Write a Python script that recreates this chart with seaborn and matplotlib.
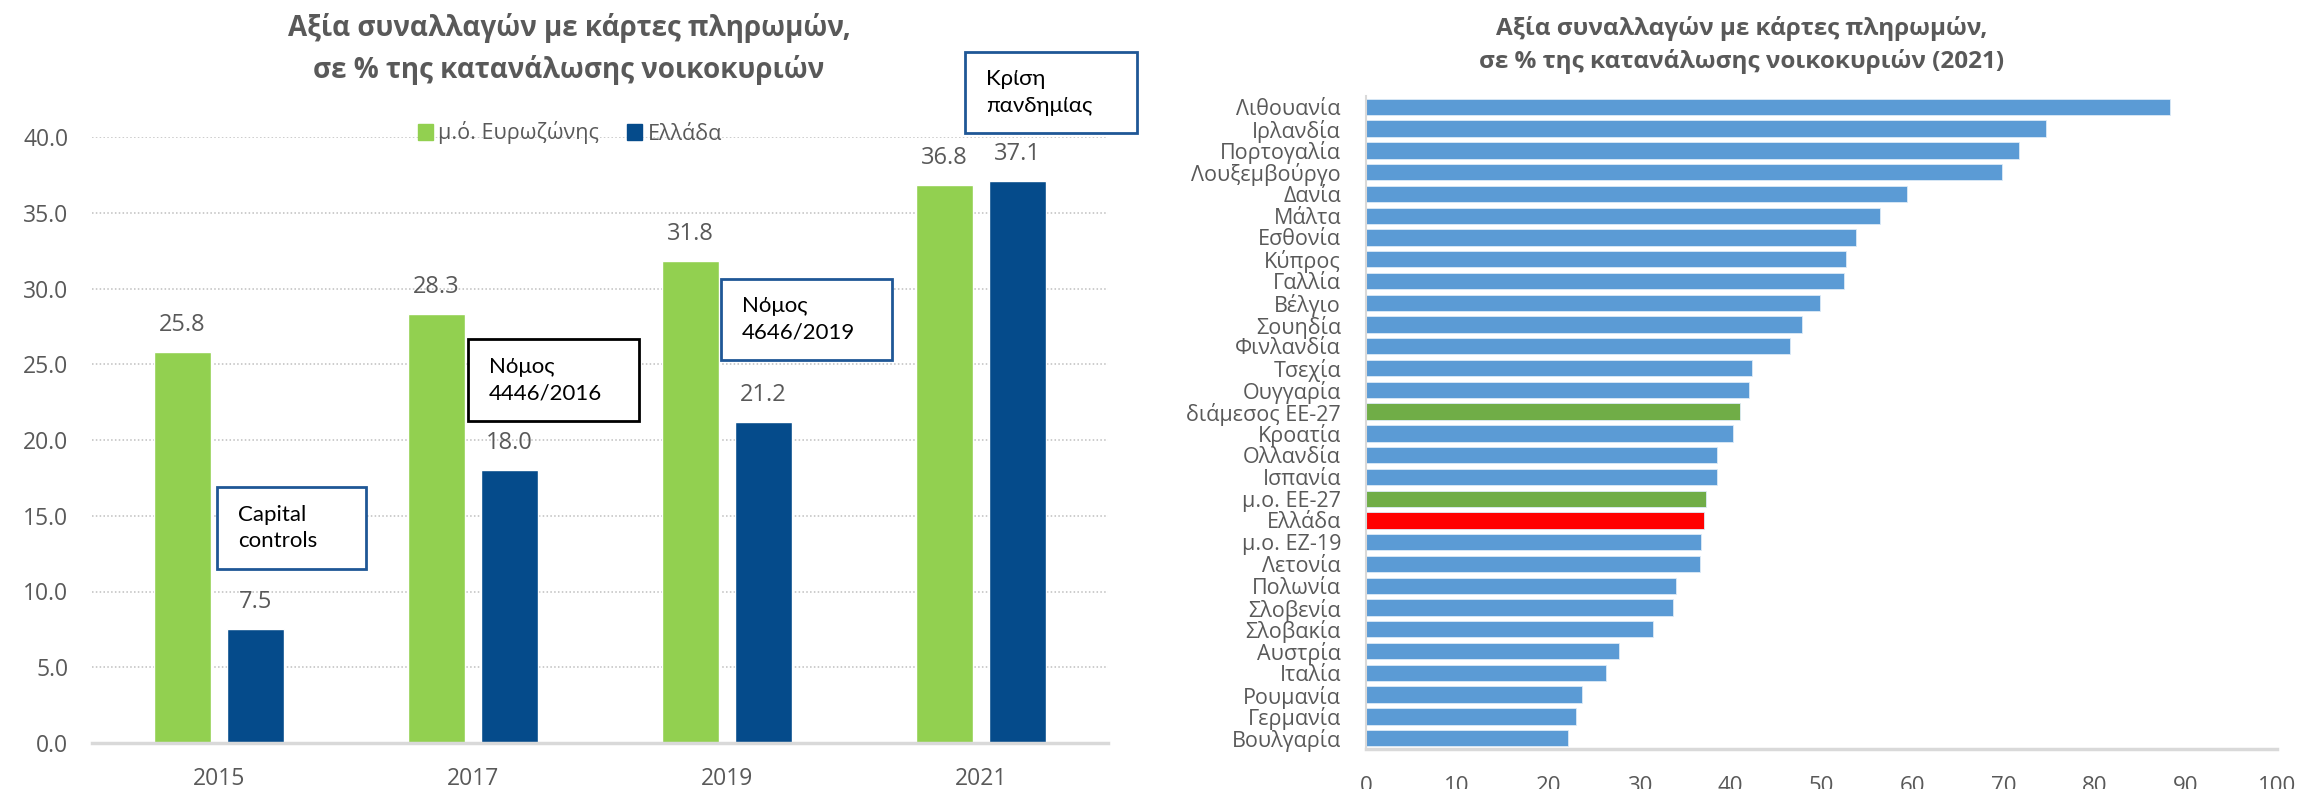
import matplotlib
matplotlib.use("Agg")
import matplotlib.pyplot as plt
from matplotlib.patches import Rectangle
import seaborn as sns
import pandas as pd

# ---------------- data ----------------
years = ["2015", "2017", "2019", "2021"]
series_names = ["μ.ό. Ευρωζώνης", "Ελλάδα"]
eurozone_vals = [25.8, 28.3, 31.8, 36.8]
greece_vals = [7.5, 18.0, 21.2, 37.1]

countries = ["Λιθουανία", "Ιρλανδία", "Πορτογαλία", "Λουξεμβούργο", "Δανία", "Μάλτα",
             "Εσθονία", "Κύπρος", "Γαλλία", "Βέλγιο", "Σουηδία", "Φινλανδία", "Τσεχία",
             "Ουγγαρία", "διάμεσος ΕΕ-27", "Κροατία", "Ολλανδία", "Ισπανία", "μ.ο. ΕΕ-27",
             "Ελλάδα", "μ.ο. ΕΖ-19", "Λετονία", "Πολωνία", "Σλοβενία", "Σλοβακία",
             "Αυστρία", "Ιταλία", "Ρουμανία", "Γερμανία", "Βουλγαρία"]
country_vals = [88.3, 74.6, 71.7, 69.8, 59.4, 56.4, 53.8, 52.7, 52.5, 49.8, 47.9, 46.5,
                42.4, 42.0, 41.1, 40.3, 38.5, 38.5, 37.3, 37.1, 36.8, 36.7, 34.0, 33.7,
                31.5, 27.8, 26.3, 23.7, 23.0, 22.2]

annotations = [("Capital\ncontrols", "#1F5796"), ("Νόμος\n4446/2016", "#000000"),
               ("Νόμος\n4646/2019", "#1F5796"), ("Κρίση\nπανδημίας", "#1F5796")]

title_left = "Αξία συναλλαγών με κάρτες πληρωμών,\nσε % της κατανάλωσης νοικοκυριών"
title_right = "Αξία συναλλαγών με κάρτες πληρωμών,\nσε % της κατανάλωσης νοικοκυριών (2021)"

# ---------------- style ----------------
sns.set_theme(style="white")
plt.rcParams["font.family"] = ["Open Sans", "DejaVu Sans"]
GREY = "#595959"
GREEN = "#92D050"
BLUE = "#054B8B"
W, H = 2299, 789

fig = plt.figure(figsize=(W / 100, H / 100), dpi=100)


def fx(px):
    return px / W


def fy(py):
    return 1 - py / H


# ---------------- left chart ----------------
ax1 = fig.add_axes([fx(92), fy(743), fx(1108) - fx(92), fy(137) - fy(743)])
df1 = pd.DataFrame({
    "year": years * 2,
    "series": [series_names[0]] * 4 + [series_names[1]] * 4,
    "value": eurozone_vals + greece_vals,
})
sns.barplot(data=df1, x="year", y="value", hue="series", palette=[GREEN, BLUE],
            width=0.575, gap=0.22, ax=ax1, legend=False, saturation=1)
ax1.set_xlim(-0.5, 3.5)
ax1.set_ylim(0, 40)
ax1.set_yticks([0, 5, 10, 15, 20, 25, 30, 35, 40])
ax1.set_yticklabels([f"{v:.1f}" for v in [0, 5, 10, 15, 20, 25, 30, 35, 40]])
ax1.yaxis.grid(True, color="#BFBFBF", linestyle=(0, (1, 1.5)), linewidth=1.1)
ax1.set_axisbelow(True)
for s in ["top", "right", "left"]:
    ax1.spines[s].set_visible(False)
ax1.spines["bottom"].set_color("#D9D9D9")
ax1.spines["bottom"].set_linewidth(2.5)
ax1.tick_params(axis="y", length=0, pad=17, labelsize=16.5, labelcolor=GREY)
ax1.tick_params(axis="x", length=0, pad=17, labelsize=16.5, labelcolor=GREY)
ax1.set_xlabel("")
ax1.set_ylabel("")
for cont in ax1.containers:
    ax1.bar_label(cont, fmt="%.1f", padding=11, fontsize=17, color=GREY)

fig.text(fx(569), fy(49), title_left, ha="center", va="center", fontsize=20,
         fontweight="bold", color=GREY, linespacing=1.55)

# legend
handles = [Rectangle((0, 0), 1, 1, color=GREEN), Rectangle((0, 0), 1, 1, color=BLUE)]
fig.legend(handles, series_names, loc="center", bbox_to_anchor=(fx(570), fy(133)),
           ncol=2, frameon=False, fontsize=15.5, labelcolor=GREY, handlelength=0.7,
           handleheight=0.7, handletextpad=0.25, columnspacing=1.3)

# annotation boxes (pixel boxes: x0, y0, x1, y1)
boxes = [(217, 487, 366, 569), (468, 339, 639, 421), (721, 279, 892, 360), (965, 52, 1137, 133)]
for (txt, col), (x0, y0, x1, y1) in zip(annotations, boxes):
    fig.add_artist(Rectangle((fx(x0), fy(y1)), fx(x1) - fx(x0), fy(y0) - fy(y1),
                             transform=fig.transFigure, facecolor="white",
                             edgecolor=col, linewidth=2, zorder=5))
    fig.text(fx(x0 + 21), fy((y0 + y1) / 2), txt, ha="left", va="center", fontsize=16,
             color="black", linespacing=1.4, zorder=6,
             family=["Lato", "Open Sans", "DejaVu Sans"])

# ---------------- right chart ----------------
ax2 = fig.add_axes([fx(1366), fy(749), fx(2277) - fx(1366), fy(96) - fy(749)])
df2 = pd.DataFrame({"country": countries, "value": country_vals})
pal = {}
for c in countries:
    if c == "Ελλάδα":
        pal[c] = "#FF0000"
    elif c in ("διάμεσος ΕΕ-27", "μ.ο. ΕΕ-27"):
        pal[c] = "#70AD47"
    else:
        pal[c] = "#5B9BD5"
sns.barplot(data=df2, y="country", x="value", hue="country", palette=pal, orient="h",
            width=0.75, ax=ax2, legend=False, saturation=1, edgecolor="#DDEBF7",
            linewidth=0.6)
ax2.set_xlim(0, 100)
ax2.set_ylim(29.5, -0.5)
ax2.set_xticks(range(0, 101, 10))
for s in ["top", "right"]:
    ax2.spines[s].set_visible(False)
ax2.spines["bottom"].set_color("#D9D9D9")
ax2.spines["bottom"].set_linewidth(2.5)
ax2.spines["left"].set_color("#D9D9D9")
ax2.spines["left"].set_linewidth(1.5)
ax2.tick_params(axis="y", length=0, pad=18, labelsize=15.5, labelcolor=GREY)
ax2.tick_params(axis="x", length=0, pad=19.5, labelsize=16, labelcolor=GREY)
ax2.set_xlabel("")
ax2.set_ylabel("")

fig.text(fx(1742), fy(45), title_right, ha="center", va="center", fontsize=17.5,
         fontweight="bold", color=GREY, linespacing=1.45)

fig.savefig("out.png", dpi=100, facecolor="white")
